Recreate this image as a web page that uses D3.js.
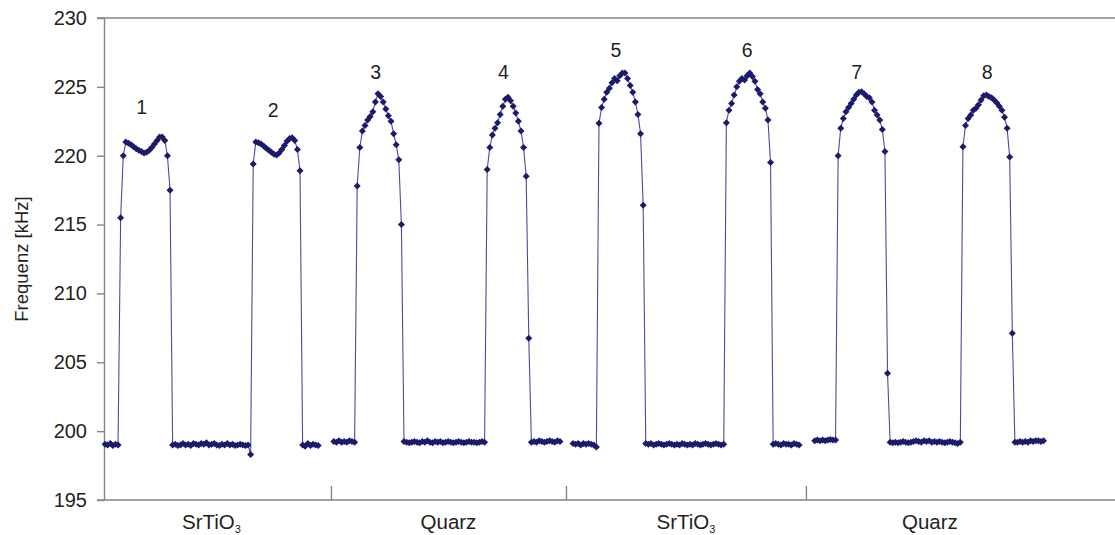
<!DOCTYPE html>
<html><head><meta charset="utf-8">
<script src="https://cdn.jsdelivr.net/npm/d3@7"></script>
<style>
body{margin:0;background:#fff}
text{font-family:"Liberation Sans",Arial,sans-serif;fill:#231f20}
</style>
</head><body><svg id="c" width="1115" height="535"></svg>
<script>
// ---- data (frequency in kHz, one value per measurement index) ----
const seg1Start = 0;
const seg1 = [199.05,199.0,199.1,198.95,199.05,199.0,
  215.5,220.0,221.0,220.9,220.8,220.65,220.5,220.4,220.3,220.2,220.25,220.4,220.6,220.85,221.1,221.35,221.35,221.1,220.0,217.5,
  199.0,199.05,198.95,199.0,199.1,199.0,199.05,198.95,199.1,199.05,199.0,199.1,199.05,199.15,199.0,199.05,199.1,199.0,198.95,199.05,199.0,199.1,199.0,199.05,198.95,199.0,199.05,199.0,198.95,199.0,
  198.3,
  219.4,221.0,220.95,220.85,220.7,220.55,220.4,220.25,220.1,220.05,220.2,220.45,220.75,221.05,221.25,221.3,221.1,220.45,218.9,
  199.0,198.9,199.1,198.95,199.05,199.0,198.95];
const seg2Start = 88;
const seg2 = [199.25,199.2,199.3,199.2,199.25,199.2,199.3,199.25,199.2,
  217.8,220.6,221.8,222.2,222.6,222.85,223.2,223.9,224.5,224.3,223.9,223.4,222.9,222.5,221.6,220.8,219.7,215.0,
  199.25,199.2,199.15,199.2,199.25,199.2,199.15,199.25,199.2,199.3,199.2,199.15,199.25,199.2,199.25,199.15,199.2,199.25,199.2,199.15,199.2,199.25,199.2,199.15,199.2,199.25,199.2,199.2,199.15,199.2,199.25,199.2,
  219.0,220.6,221.5,222.0,222.4,223.0,223.6,224.1,224.25,224.0,223.6,223.1,222.5,221.8,220.6,218.5,206.75,
  199.2,199.25,199.2,199.3,199.25,199.2,199.25,199.3,199.25,199.2,199.3,199.25];
const seg3Start = 180;
const seg3 = [199.1,199.05,199.1,199.0,199.1,199.05,199.1,199.05,199.0,198.85,
  222.35,223.5,224.1,224.6,224.9,225.3,225.6,225.45,225.8,226.0,226.0,225.6,225.1,224.6,223.9,223.0,221.6,216.4,
  199.1,199.05,199.1,199.0,199.05,199.1,199.05,199.0,199.05,199.1,199.05,199.0,199.05,199.0,199.1,199.05,199.0,199.05,199.0,199.1,199.05,199.0,199.05,199.1,199.05,199.0,199.05,199.1,199.05,199.0,199.05,
  222.4,223.3,223.8,224.4,225.0,225.4,225.6,225.5,225.8,226.0,225.75,225.4,224.8,224.5,223.9,223.45,222.6,219.5,
  199.05,199.1,199.05,199.0,199.1,199.05,199.05,199.0,199.1,199.05,199.0];
const seg4Start = 273;
const seg4 = [199.3,199.35,199.3,199.35,199.3,199.35,199.4,199.35,199.35,
  220.0,222.0,222.7,223.2,223.5,223.8,224.1,224.4,224.6,224.65,224.5,224.3,224.2,223.9,223.3,222.95,222.6,221.9,220.3,204.2,
  199.2,199.15,199.2,199.15,199.2,199.25,199.2,199.15,199.2,199.25,199.3,199.25,199.2,199.3,199.25,199.3,199.2,199.25,199.2,199.25,199.2,199.15,199.2,199.25,199.2,199.15,199.1,199.2,
  220.65,222.2,222.7,222.95,223.3,223.45,223.7,224.05,224.35,224.4,224.3,224.2,224.05,223.85,223.6,223.3,222.8,222.0,219.9,207.1,
  199.2,199.2,199.25,199.2,199.25,199.2,199.3,199.25,199.3,199.3,199.25,199.3];

const yTicks = [195,200,205,210,215,220,225,230];
const groupNames = ["SrTiO","Quarz","SrTiO","Quarz"];
const groupSubs  = ["3","","3",""];
const groupStart = [-5,86.9,177.3,269.6];
const groupEnd   = [86.9,177.3,269.6,365];
const groupBreaks = [86.9,177.3,269.6];
const pulseLabels = ["1","2","3","4","5","6","7","8"];
const pulseLabelIdx = [14.1,64.7,104.1,153.2,196.5,247,289.1,339.3];
const pulseLabelVal = [223.56,223.32,226.1,226.1,227.68,227.68,226.1,226.03];
const yTitle = "Frequenz [kHz]";

// ---- chart ----
const svg = d3.select("#c");
const x = d3.scaleLinear().domain([-0.4,388.5]).range([104,1115]);
const y = d3.scaleLinear().domain([195,230]).range([500,18]);
const axisColor = "#858585";

// top frame line
svg.append("line").attr("x1",x.range()[0]-7).attr("x2",x.range()[1])
  .attr("y1",y(230)).attr("y2",y(230)).attr("stroke",axisColor).attr("stroke-width",1.4);

// y axis
const ya = svg.append("g").attr("transform",`translate(${x.range()[0]},0)`)
  .call(d3.axisLeft(y).tickValues(yTicks).tickSize(7).tickSizeOuter(0).tickPadding(10));
ya.selectAll("path,line").attr("stroke",axisColor).attr("stroke-width",1.4);
ya.selectAll("text").attr("font-size",20).attr("fill","#231f20")
  .style("font-family","'Liberation Sans',Arial,sans-serif");

// x axis (category group separators)
const xa = svg.append("g").attr("transform",`translate(0,${y(195)})`)
  .call(d3.axisBottom(x).tickValues(groupBreaks).tickSize(-14).tickSizeOuter(0).tickFormat(""));
xa.selectAll("path,line").attr("stroke",axisColor).attr("stroke-width",1.4);
xa.select("path").attr("d",`M${x.range()[0]-7},0H${x.range()[1]}`);

// group labels
groupNames.forEach((g,k)=>{
  const t = svg.append("text").attr("x",x((groupStart[k]+groupEnd[k])/2)).attr("y",529)
    .attr("text-anchor","middle").attr("font-size",20.5).text(g);
  if(groupSubs[k]) t.append("tspan").attr("font-size",11).attr("dy",4).text(groupSubs[k]);
});

// y title
svg.append("text").attr("transform",`translate(28,${(y(195)+y(230))/2}) rotate(-90)`)
  .attr("text-anchor","middle").attr("font-size",18.5).text(yTitle);

// series
const segs = [[seg1Start,seg1],[seg2Start,seg2],[seg3Start,seg3],[seg4Start,seg4]];
const lineColor = "#4b4b9e", markColor = "#1b1a6b";
segs.forEach(([s,vals])=>{
  const pts = vals.map((v,i)=>[s+i,v]);
  svg.append("path").datum(pts)
    .attr("d",d3.line().x(d=>x(d[0])).y(d=>y(d[1])))
    .attr("fill","none").attr("stroke",lineColor).attr("stroke-width",1.1);
  svg.append("g").selectAll("path").data(pts).join("path")
    .attr("transform",d=>`translate(${x(d[0])},${y(d[1])})`)
    .attr("d","M0,-3.5L3.5,0L0,3.5L-3.5,0Z")
    .attr("fill",markColor);
});

// pulse numbers
svg.append("g").selectAll("text").data(pulseLabels).join("text")
  .attr("x",(d,i)=>x(pulseLabelIdx[i])).attr("y",(d,i)=>y(pulseLabelVal[i]))
  .attr("dy","0.35em").attr("text-anchor","middle").attr("font-size",19.5).text(d=>d);
</script>
</body></html>
